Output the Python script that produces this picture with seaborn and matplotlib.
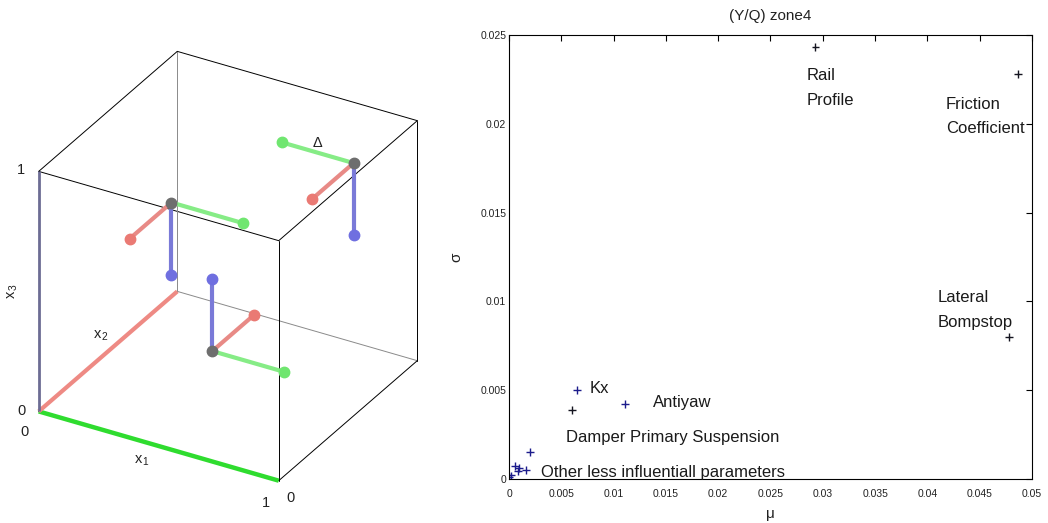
import numpy as np
import pandas as pd
import matplotlib
matplotlib.use("Agg")
import matplotlib.pyplot as plt
import seaborn as sns
from matplotlib.ticker import FuncFormatter

# ---------------------------------------------------------------------------
# Screening results for the (Y/Q) criterion in zone 4: mean elementary
# effect (mu) against its standard deviation (sigma) for each parameter.
# ---------------------------------------------------------------------------
mu = [0.0293, 0.0487, 0.0478, 0.0065, 0.0060, 0.0111, 0.0020,
      0.00057, 0.00096, 0.00086, 0.00163, 0.0002, 0.0000]
sigma = [0.0243, 0.0228, 0.0080, 0.0050, 0.0039, 0.0042, 0.0015,
         0.00073, 0.00062, 0.00045, 0.00051, 0.0002, 0.0001]
group = ["dark", "dark", "dark", "blue", "dark", "blue", "blue",
         "blue", "blue", "blue", "blue", "blue", "blue"]

annot_text = ["Rail\nProfile", "Friction\nCoefficient", "Lateral\nBompstop",
              "Kx", "Antiyaw", "Damper Primary Suspension",
              "Other less influentiall parameters"]
annot_mu = [0.0285, 0.04178, 0.04101, 0.00774, 0.01377, 0.00545, 0.00306]
annot_sigma = [0.02203, 0.0204, 0.0095, 0.00507, 0.00428, 0.00231, 0.00039]

mu_ticks = np.arange(0, 0.0501, 0.005)
sigma_ticks = np.arange(0, 0.0251, 0.005)

# ---------------------------------------------------------------------------
# One-at-a-time (star) sampling in the unit cube: three base points, each
# perturbed by +/- delta along x1, x2 and x3.
# ---------------------------------------------------------------------------
base_x1 = [0.38, 0.85, 0.55]
base_x2 = [0.30, 0.80, 0.30]
base_x3 = [0.83, 0.88, 0.26]
step_x1 = [0.3, -0.3, 0.3]
step_x2 = [-0.3, -0.3, 0.3]
step_x3 = [-0.3, -0.3, 0.3]

sns.set_theme(style="white")
plt.rcParams["font.family"] = ["Liberation Sans", "DejaVu Sans"]
plt.rcParams["mathtext.fontset"] = "custom"
plt.rcParams["mathtext.rm"] = "Liberation Sans"
plt.rcParams["mathtext.it"] = "Liberation Sans"

fig = plt.figure(figsize=(10.48, 5.23), dpi=100)
fig.patch.set_facecolor("white")

# ----------------------------- cube panel ---------------------------------
ax3 = fig.add_axes([-0.0108, 0.0338, 0.4447, 0.8910], projection="3d",
                   proj_type="ortho", computed_zorder=False)
ax3.view_init(elev=30, azim=-60)
ax3.set_box_aspect((1, 1, 1))
ax3.set_xlim(0, 1)
ax3.set_ylim(0, 1)
ax3.set_zlim(0, 1)
ax3.set_axis_off()

GREEN_AX = "#2fdc2f"
RED_AX = "#ee8a84"
BLUE_AX = "#6c6c94"
GREEN = "#86ec86"
GREEN_DOT = "#70e670"
RED = "#e88a86"
RED_DOT = "#ea7a74"
BLUE = "#7a7ad8"
BLUE_DOT = "#6f6fe0"
GREY_DOT = "#6e6e6e"

corners = np.array([[i, j, k] for i in (0, 1) for j in (0, 1) for k in (0, 1)])
hidden = np.array([0, 1, 0])
for a in range(8):
    for b in range(a + 1, 8):
        pa, pb = corners[a], corners[b]
        if np.abs(pa - pb).sum() != 1:
            continue
        back = (pa == hidden).all() or (pb == hidden).all()
        ax3.plot(*zip(pa, pb), color="#8a8a8a" if back else "black",
                 lw=0.7, zorder=1)

# coloured reference axes
ax3.plot([0, 1], [0, 0], [0, 0], color=GREEN_AX, lw=3.2, zorder=2,
         solid_capstyle="butt")
ax3.plot([0, 0], [0, 1], [0, 0], color=RED_AX, lw=3.0, zorder=2,
         solid_capstyle="butt")
ax3.plot([0, 0], [0, 0], [0, 1], color=BLUE_AX, lw=2.0, zorder=2,
         solid_capstyle="butt")

for bx, by, bz, dx, dy, dz in zip(base_x1, base_x2, base_x3,
                                  step_x1, step_x2, step_x3):
    ax3.plot([bx, bx + dx], [by, by], [bz, bz], color=GREEN, lw=3.0, zorder=3)
    ax3.plot([bx, bx], [by, by + dy], [bz, bz], color=RED, lw=3.0, zorder=3)
    ax3.plot([bx, bx], [by, by], [bz, bz + dz], color=BLUE, lw=3.0, zorder=3)
    ax3.plot([bx + dx], [by], [bz], "o", color=GREEN_DOT, ms=7.5, zorder=4)
    ax3.plot([bx], [by + dy], [bz], "o", color=RED_DOT, ms=7.5, zorder=4)
    ax3.plot([bx], [by], [bz + dz], "o", color=BLUE_DOT, ms=7.5, zorder=4)
    ax3.plot([bx], [by], [bz], "o", color=GREY_DOT, ms=7.5, zorder=4)

txt = dict(color="#222222", fontsize=10.5, ha="center", va="center")
ax3.text(-0.075, 0, 0.985, "1", **txt)
ax3.text(-0.07, 0, -0.02, "0", **txt)
ax3.text(-0.06, 0, -0.105, "0", **txt)
ax3.text(0.946, 0, -0.108, "1", **txt)
ax3.text(1.10, -0.085, 0, "0", **txt)
ax3.text(0.43, 0, -0.08, r"$\mathrm{x}_{\,1}$", **txt)
ax3.text(0, 0.45, 0.09, r"$\mathrm{x}_{\,2}$", **txt)
ax3.text(-0.11, 0, 0.47, r"$\mathrm{x}_{\,3}$", zdir="z", **txt)
ax3.text(base_x1[1] - 0.15, base_x2[1], base_x3[1] + 0.04, "Δ", **txt)

# ---------------------------- scatter panel -------------------------------
ax = fig.add_axes([0.4857, 0.0841, 0.499, 0.849])
df = pd.DataFrame({"mu": mu, "sigma": sigma, "group": group})
sns.scatterplot(data=df, x="mu", y="sigma", hue="group",
                palette={"dark": "#151520", "blue": "#1c1c8c"},
                marker="+", s=32, linewidth=1.0, legend=False, ax=ax)

for t, xm, ys in zip(annot_text, annot_mu, annot_sigma):
    ax.text(xm, ys, t, fontsize=12, ha="left", va="center",
            linespacing=1.8, color="#1a1a1a")

ax.set_xlim(0, 0.05)
ax.set_ylim(0, 0.025)
ax.set_xticks(mu_ticks)
ax.set_yticks(sigma_ticks)
fmt = FuncFormatter(lambda v, p: f"{v:g}")
ax.xaxis.set_major_formatter(fmt)
ax.yaxis.set_major_formatter(fmt)
ax.tick_params(axis="both", direction="in", top=True, right=True,
               length=4, width=0.8, color="black", labelsize=7.5,
               labelcolor="#222222")
ax.tick_params(axis="x", pad=7)
ax.tick_params(axis="y", pad=2)
for sp in ax.spines.values():
    sp.set_visible(True)
    sp.set_color("black")
    sp.set_linewidth(0.8)

ax.set_title("(Y/Q) zone4", fontsize=11, pad=11, color="#222222")
ax.set_xlabel("μ", fontsize=11, labelpad=6, color="#222222")
ax.set_ylabel("σ", fontsize=11, labelpad=12, color="#222222")

fig.savefig("out.png", dpi=100)
